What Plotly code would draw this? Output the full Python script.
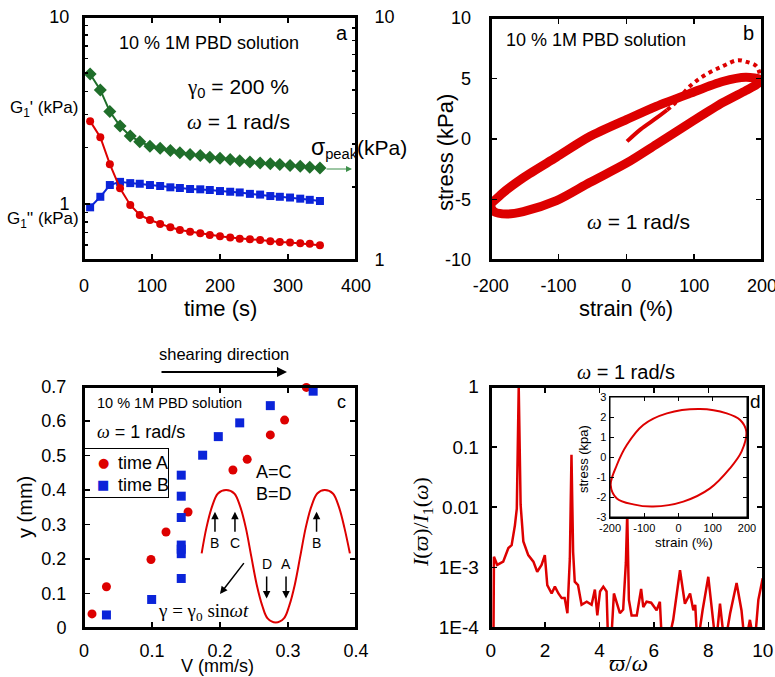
import plotly.graph_objects as go
import math

W, H = 775, 677
def px(x): return x / W
def py(y): return 1 - y / H

RED = "#dd0000"; BLUE = "#0b24d9"; GREEN = "#1f6e2a"
SANS = "Liberation Sans, Arial, sans-serif"
SERIF = "Liberation Serif, Times New Roman, serif"

# ---------------- panel a data ----------------
time_s = [9, 24, 38, 53, 68, 82, 97, 112, 127, 141, 156, 171, 185, 200, 215, 229, 244, 259, 274, 288, 303, 318, 332, 347]
G1_storage = [2.77, 2.27, 1.63, 1.21, 0.986, 0.871, 0.819, 0.78, 0.748, 0.724, 0.709, 0.695, 0.681, 0.67, 0.66, 0.65, 0.645, 0.64, 0.63, 0.625, 0.62, 0.615, 0.61, 0.60]
G1_loss = [0.957, 1.09, 1.26, 1.31, 1.29, 1.28, 1.26, 1.245, 1.225, 1.215, 1.20, 1.195, 1.185, 1.17, 1.16, 1.15, 1.13, 1.12, 1.10, 1.09, 1.08, 1.065, 1.05, 1.035]
sigma_peak = [5.83, 5.01, 4.08, 3.56, 3.24, 3.07, 2.94, 2.88, 2.82, 2.76, 2.72, 2.69, 2.65, 2.62, 2.59, 2.56, 2.53, 2.51, 2.49, 2.47, 2.45, 2.43, 2.41, 2.39]

# ---------------- panel b data ----------------
strain_loop = [198, 176, 142, 93, 44, 0, -54, -103, -152, -185, -200, -195, -176, -152, -103, -54, 0, 44, 93, 142, 176, 192, 198]
stress_loop = [4.9, 5.1, 4.75, 3.75, 2.7, 1.6, 0.2, -1.5, -3.2, -4.6, -5.5, -6.0, -6.2, -6.0, -5.1, -3.6, -2.0, -0.45, 1.3, 3.0, 4.0, 4.5, 4.9]
strain_start_solid = [1, 21, 45, 60]
stress_start_solid = [-0.2, 0.8, 1.76, 2.4]
strain_start_dots = [60, 70, 94, 118, 143, 163, 176, 192, 198]
stress_start_dots = [2.4, 2.86, 4.38, 5.35, 6.04, 6.5, 6.4, 6.0, 5.0]

# ---------------- panel c data ----------------
V_timeA = [0.0118, 0.033, 0.0985, 0.1206, 0.153, 0.219, 0.240, 0.274, 0.295, 0.327]
y_timeA = [0.040, 0.119, 0.198, 0.278, 0.336, 0.458, 0.489, 0.560, 0.603, 0.698]
V_timeB = [0.033, 0.0995, 0.143, 0.143, 0.143, 0.143, 0.143, 0.143, 0.143, 0.1745, 0.1975, 0.229, 0.274, 0.337]
y_timeB = [0.037, 0.082, 0.143, 0.215, 0.228, 0.240, 0.320, 0.382, 0.443, 0.501, 0.555, 0.595, 0.645, 0.687]
sine_x = [0.173, 0.180, 0.188, 0.197, 0.209, 0.221, 0.230, 0.238, 0.246, 0.254, 0.262, 0.270, 0.282, 0.294, 0.302, 0.310, 0.318, 0.326, 0.334, 0.343, 0.354, 0.366, 0.375, 0.383, 0.391]
sine_y = [0.216, 0.29, 0.35, 0.39, 0.400, 0.39, 0.35, 0.29, 0.207, 0.125, 0.065, 0.027, 0.015, 0.027, 0.065, 0.125, 0.207, 0.29, 0.35, 0.39, 0.400, 0.39, 0.35, 0.29, 0.216]
legend_labels = ["time A", "time B"]

# ---------------- panel d data ----------------
freq_ratio = [0.1, 0.12, 0.24, 0.46, 0.65, 0.77, 0.89, 0.96, 1.03, 1.10, 1.2, 1.38, 1.57, 1.71, 1.87, 1.99, 2.08, 2.24, 2.36, 2.49,
              2.61, 2.72, 2.82, 2.91, 2.97, 3.03, 3.09, 3.21, 3.34, 3.53, 3.71, 3.83, 3.92, 4.02, 4.14, 4.26, 4.32, 4.42, 4.53, 4.75,
              4.87, 4.97, 5.02, 5.08, 5.18, 5.37, 5.53, 5.61, 5.73, 5.9, 6.1, 6.22, 6.3, 6.5, 6.71, 6.96, 7.14, 7.33, 7.45, 7.52,
              7.6, 7.79, 8.0, 8.15, 8.28, 8.43, 8.6, 8.8, 9.04, 9.22, 9.35, 9.53, 9.7, 9.84, 10.0]
intensity = [5e-5, 1.5e-3, 1.1e-3, 1.25e-3, 2.1e-3, 2.35e-3, 5e-3, 9.5e-3, 1.0, 1.1e-2, 2.7e-3, 1.6e-3, 1.25e-3, 8.5e-4, 1.1e-3, 1.6e-3, 5.1e-4, 3.7e-4, 4.8e-4, 3.7e-4,
             3.1e-4, 3.1e-4, 1.74e-4, 1.4e-3, 7.4e-2, 1.8e-3, 5.8e-4, 5.1e-4, 2.4e-4, 2.7e-4, 2.4e-4, 4.3e-4, 1.6e-4, 4.0e-4, 4.8e-4, 4.0e-4, 5e-5, 5e-5, 3.7e-4, 1.74e-4,
             2.0e-4, 1.2e-3, 8.0e-3, 2.9e-4, 1.6e-4, 1.6e-4, 4.4e-4, 2.2e-4, 2.7e-4, 2.6e-4, 1.95e-4, 2.7e-4, 5e-5, 5e-5, 1.35e-4, 9e-4, 2.5e-4, 3.7e-4, 1.95e-4, 2.4e-4,
             5e-5, 1.95e-4, 7e-4, 1.95e-4, 5e-5, 2.5e-4, 5e-5, 1.7e-4, 5.5e-4, 1.95e-4, 5e-5, 1.35e-4, 5e-5, 2.9e-4, 6.6e-4]
inset_strain = [198, 180, 141, 63, -34, -103, -151, -180, -198, -180, -132, -74, 14, 92, 150, 184, 198]
inset_stress = [1.27, 1.85, 2.18, 2.4, 2.18, 1.6, 0.6, -0.4, -1.4, -2.07, -2.37, -2.48, -2.23, -1.57, -0.57, 0.27, 1.27]

# tick labels (plain hyphen minus as in the reference)
strain_ticks = [-200, -100, 0, 100, 200]
strain_ticklabels = ["-200", "-100", "0", "100", "200"]
stress_ticks_b = [-10, -5, 0, 5, 10]
stress_ticklabels_b = ["-10", "-5", "0", "5", "10"]
stress_ticks_inset = [-3, -2, -1, 0, 1, 2, 3]
stress_ticklabels_inset = ["-3", "-2", "-1", "0", "1", "2", "3"]
intensity_ticks = [1e-4, 1e-3, 1e-2, 1e-1, 1]
intensity_ticklabels = ["1E-4", "1E-3", "0.01", "0.1", "1"]

fig = go.Figure()

# panel a
fig.add_trace(go.Scatter(x=time_s, y=sigma_peak, xaxis="x", yaxis="y2", mode="lines+markers",
                         line=dict(color=GREEN, width=2), marker=dict(symbol="diamond", size=10, color=GREEN), showlegend=False))
fig.add_trace(go.Scatter(x=time_s, y=G1_loss, xaxis="x", yaxis="y", mode="lines+markers",
                         line=dict(color=BLUE, width=2), marker=dict(symbol="square", size=8, color=BLUE), showlegend=False))
fig.add_trace(go.Scatter(x=time_s, y=G1_storage, xaxis="x", yaxis="y", mode="lines+markers",
                         line=dict(color=RED, width=2), marker=dict(symbol="circle", size=8, color=RED), showlegend=False))

# panel b
fig.add_trace(go.Scatter(x=strain_loop, y=stress_loop, xaxis="x2", yaxis="y3", mode="lines",
                         line=dict(color=RED, width=9, shape="spline", smoothing=0.8), showlegend=False))
fig.add_trace(go.Scatter(x=strain_start_solid, y=stress_start_solid, xaxis="x2", yaxis="y3", mode="lines",
                         line=dict(color=RED, width=4, shape="spline"), showlegend=False))
fig.add_trace(go.Scatter(x=strain_start_dots, y=stress_start_dots, xaxis="x2", yaxis="y3", mode="lines",
                         line=dict(color=RED, width=4, shape="spline", dash="dot"), showlegend=False))

# panel c
fig.add_trace(go.Scatter(x=sine_x, y=sine_y, xaxis="x3", yaxis="y4", mode="lines",
                         line=dict(color=RED, width=2, shape="spline"), showlegend=False))
fig.add_trace(go.Scatter(x=V_timeA, y=y_timeA, xaxis="x3", yaxis="y4", mode="markers", name=legend_labels[0],
                         marker=dict(symbol="circle", size=9, color=RED), cliponaxis=False, showlegend=False))
fig.add_trace(go.Scatter(x=V_timeB, y=y_timeB, xaxis="x3", yaxis="y4", mode="markers", name=legend_labels[1],
                         marker=dict(symbol="square", size=9, color=BLUE), cliponaxis=False, showlegend=False))

# panel d
fig.add_trace(go.Scatter(x=freq_ratio, y=intensity, xaxis="x4", yaxis="y5", mode="lines",
                         line=dict(color=RED, width=2.5), showlegend=False))
fig.add_trace(go.Scatter(x=inset_strain, y=inset_stress, xaxis="x5", yaxis="y6", mode="lines",
                         line=dict(color=RED, width=2, shape="spline"), showlegend=False))


def axs(**kw):
    d = dict(showline=True, linecolor="#000000", linewidth=2, ticks="inside", ticklen=6, tickwidth=1.5,
             tickcolor="black", showgrid=False, zeroline=False, ticklabeloverflow="allow",
             tickfont=dict(family=SANS, size=18, color="black"))
    d.update(kw)
    return d

# plot-area boxes in pixels: (left, right, top, bottom)
BOX_A = (84, 356, 17, 260)
BOX_B = (490.7, 762, 18, 260)
BOX_C = (84, 356, 386.7, 627.7)
BOX_D = (490.7, 762.7, 386.7, 627.7)
BOX_IN = (610, 747, 397, 517)
BOX_LEG = (83, 168, 448, 497)

def xdom(b): return [px(b[0]), px(b[1])]
def ydom(b): return [py(b[3]), py(b[2])]

small = dict(family=SANS, size=11, color="black")

layout = dict(
    template="none",
    width=W, height=H, margin=dict(l=0, r=0, t=0, b=0, autoexpand=False),
    paper_bgcolor="white", plot_bgcolor="white",
    showlegend=False,
    xaxis=axs(domain=xdom(BOX_A), anchor="y", range=[0, 400], dtick=100, mirror="ticks", ticklabelstandoff=8),
    yaxis=axs(domain=ydom(BOX_A), anchor="x", type="log", range=[math.log10(0.5), 1], tickmode="array",
              tickvals=[1, 10], ticktext=["1", "10"], ticklabelstandoff=9,
              minor=dict(tickmode="array", tickvals=[0.5, 0.6, 0.7, 0.8, 0.9, 2, 3, 4, 5, 6, 7, 8, 9],
                         ticks="inside", ticklen=4, tickcolor="black", showgrid=False)),
    yaxis2=axs(overlaying="y", side="right", anchor="x", type="log", range=[0, 1], tickmode="array",
               tickvals=[1, 10], ticktext=["1", "10"], ticklabelstandoff=13,
               minor=dict(tickmode="array", tickvals=[2, 3, 4, 5, 6, 7, 8, 9],
                          ticks="inside", ticklen=4, tickcolor="black", showgrid=False)),
    xaxis2=axs(domain=xdom(BOX_B), anchor="y3", range=[-200, 200], tickmode="array",
               tickvals=strain_ticks, ticktext=strain_ticklabels, mirror="ticks", ticklabelstandoff=8),
    yaxis3=axs(domain=ydom(BOX_B), anchor="x2", range=[-10, 10], tickmode="array",
               tickvals=stress_ticks_b, ticktext=stress_ticklabels_b, mirror="ticks", ticklabelstandoff=14),
    xaxis3=axs(domain=xdom(BOX_C), anchor="y4", range=[0, 0.4], dtick=0.1, mirror="ticks", ticklabelstandoff=6),
    yaxis4=axs(domain=ydom(BOX_C), anchor="x3", range=[0, 0.7], dtick=0.1, mirror="ticks", ticklabelstandoff=12),
    xaxis4=axs(domain=xdom(BOX_D), anchor="y5", range=[0, 10], dtick=2, mirror="ticks",
               ticklabelstandoff=4, tickfont=dict(family=SANS, size=19, color="black")),
    yaxis5=axs(domain=ydom(BOX_D), anchor="x4", type="log", range=[-4, 0], tickmode="array",
               tickvals=intensity_ticks, ticktext=intensity_ticklabels,
               mirror="ticks", ticklabelstandoff=6, tickfont=dict(family=SANS, size=19, color="black")),
    xaxis5=axs(domain=xdom(BOX_IN), anchor="y6", range=[-200, 200], tickmode="array",
               tickvals=strain_ticks, ticktext=strain_ticklabels, mirror="ticks",
               linewidth=1.5, ticklen=4, tickwidth=1, ticklabelstandoff=0, tickfont=small),
    yaxis6=axs(domain=ydom(BOX_IN), anchor="x5", range=[-3, 3], tickmode="array",
               tickvals=stress_ticks_inset, ticktext=stress_ticklabels_inset, mirror="ticks",
               linewidth=1.5, ticklen=4, tickwidth=1, ticklabelstandoff=0, tickfont=small),
)

W_OMEGA = '<span style="font-family:Liberation Serif, Times New Roman, serif"><i>ω</i></span>'

def txt(x, y, text, size=18, family=SANS, xanchor="center", yanchor="middle", angle=0, color="black"):
    return dict(x=px(x), y=py(y), xref="paper", yref="paper", text=text, showarrow=False,
                font=dict(family=family, size=size, color=color), xanchor=xanchor, yanchor=yanchor,
                textangle=angle)

def frame(b, bw=2.0):
    l, r, t, btm = b
    return dict(x=px(l - bw / 2), y=py(t - bw / 2), xref="paper", yref="paper", xanchor="left", yanchor="top",
                text="&nbsp;", showarrow=False, width=(r - l) - bw, height=(btm - t) - bw,
                borderpad=0, borderwidth=bw, bordercolor="black", bgcolor="rgba(255,255,255,0)",
                font=dict(size=10, color="rgba(0,0,0,0)"))

def arrow_c(x, y, ax, ay, width=1.5):
    return dict(x=x, y=y, ax=ax, ay=ay, xref="x3", yref="y4", axref="x3", ayref="y4", text="",
                showarrow=True, arrowhead=2, arrowsize=1, arrowwidth=width, arrowcolor="black", standoff=0)

def lab_c(x, y, s):
    return dict(x=x, y=y, xref="x3", yref="y4", text=s, showarrow=False,
                font=dict(family=SANS, size=14, color="black"))

ann = [
    frame(BOX_A), frame(BOX_B), frame(BOX_C), frame(BOX_D), frame(BOX_IN, 1.5), frame(BOX_LEG, 1.0),
    # panel a
    txt(209, 43, "10 % 1M PBD solution", 18),
    txt(342, 33, "a", 20),
    txt(185, 88, '<span style="font-family:Liberation Serif, serif">γ</span><sub>0</sub> = 200 %', 21, xanchor="left"),
    txt(185, 122, W_OMEGA + " = 1 rad/s", 21, xanchor="left"),
    txt(8, 109, "G<sub>1</sub>' (kPa)", 17, xanchor="left"),
    txt(5, 220, "G<sub>1</sub>'' (kPa)", 17, xanchor="left"),
    txt(309, 148, '<span style="font-size:23px">σ</span><sub>peak</sub><span style="font-size:21px">(kPa)</span>', 21, xanchor="left"),
    txt(220, 308, "time (s)", 22),
    dict(x=px(352), y=py(169), xref="paper", yref="paper", ax=-27, ay=0, text="", showarrow=True,
         arrowhead=2, arrowsize=1.2, arrowwidth=1, arrowcolor="#3d8f4a", standoff=0),
    # panel b
    txt(596, 40, "10 % 1M PBD solution", 18),
    txt(748, 33, "b", 20),
    txt(585, 222, W_OMEGA + " = 1 rad/s", 21, xanchor="left"),
    txt(626, 308, "strain (%)", 22),
    txt(445, 153, "stress (kPa)", 22, angle=-90),
    # panel c
    txt(224, 354, "shearing direction", 16.5),
    dict(x=px(287), y=py(372), xref="paper", yref="paper", ax=-127, ay=0, text="", showarrow=True,
         arrowhead=2, arrowsize=1, arrowwidth=2, arrowcolor="black", standoff=0),
    txt(95, 403, "10 % 1M PBD solution", 14.5, xanchor="left"),
    txt(341, 402, "c", 18),
    txt(95, 432, W_OMEGA + " = 1 rad/s", 18, xanchor="left"),
    txt(254, 472, "A=C", 18, xanchor="left"),
    txt(254, 494, "B=D", 18, xanchor="left"),
    txt(217, 666, "V (mm/s)", 18),
    txt(25, 507, "y (mm)", 20, angle=-90),
    # legend of panel c
    txt(103, 462, "●", 13, family="DejaVu Sans", color=RED),
    txt(103, 484, "■", 13, family="DejaVu Sans", color=BLUE),
    txt(116, 463, legend_labels[0], 18, xanchor="left"),
    txt(116, 485, legend_labels[1], 18, xanchor="left"),
    arrow_c(0.1926, 0.337, 0.1926, 0.274), arrow_c(0.222, 0.337, 0.222, 0.274), arrow_c(0.342, 0.337, 0.342, 0.274),
    arrow_c(0.2686, 0.085, 0.2686, 0.153), arrow_c(0.2971, 0.085, 0.2971, 0.153),
    arrow_c(0.200, 0.098, 0.2368, 0.192),
    lab_c(0.1926, 0.245, "B"), lab_c(0.222, 0.245, "C"), lab_c(0.342, 0.245, "B"),
    lab_c(0.2686, 0.185, "D"), lab_c(0.2971, 0.185, "A"),
    txt(203, 612, "γ = γ<sub>0</sub> sin<i>ωt</i>", 19, family=SERIF),
    # panel d
    txt(626, 372, W_OMEGA + " = 1 rad/s", 20),
    txt(628, 663, "<i>ϖ</i>/<i>ω</i>", 23, family=SERIF),
    txt(422, 522, "<i>I</i>(<i>ϖ</i>)/<i>I</i><sub>1</sub>(<i>ω</i>)", 22, family=SERIF, angle=-90),
    txt(755, 401, "d", 19),
    txt(684, 542, "strain (%)", 13.5),
    txt(583, 459, "stress (kpa)", 13, angle=-90),
]
layout["annotations"] = ann
fig.update_layout(**layout)
fig.write_html("out.html", config={"staticPlot": True})
